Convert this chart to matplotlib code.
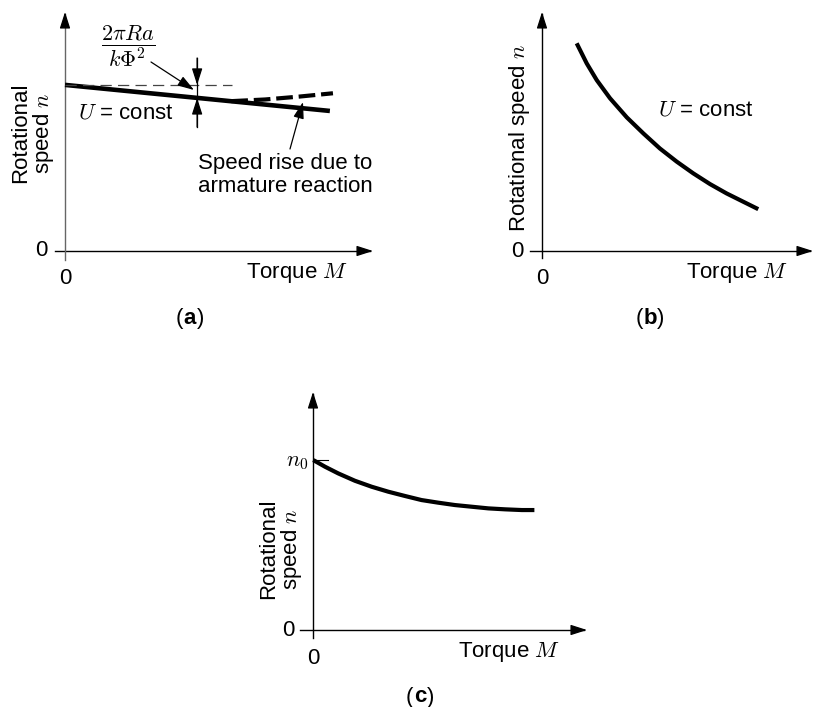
import matplotlib
matplotlib.use("Agg")
import matplotlib.pyplot as plt

plt.rcParams['font.family'] = ['Liberation Sans', 'DejaVu Sans']
plt.rcParams['mathtext.fontset'] = 'cm'
FS = 16

# ---------------- data ----------------
# Panel (a): shunt motor, speed vs torque
a_M_line = [0, 86]
a_n_line = [69.5, 58.6]
a_M_rise = [54.0, 65.0, 76.0, 87.0]
a_n_rise = [62.7, 63.4, 64.6, 66.0]
a_n0 = 69.5
a_M_ref = 54.2          # end of thin dashed no-load line
a_M_drop = 42.9          # position of the drop marker
a_n_drop = 64.0

# Panel (b): series motor
b_M = [12.8, 16.5, 20.2, 25.1, 31.3, 37.4, 43.5, 49.7, 55.8, 62.0, 68.1, 74.3, 79.8]
b_n = [86.9, 78.5, 71.5, 63.9, 55.9, 49.2, 42.9, 37.4, 32.5, 28.0, 24.1, 20.6, 17.5]

# Panel (c): compound motor
c_M = [0.1, 4.4, 9.2, 15.3, 21.4, 27.5, 33.6, 39.6, 45.7, 51.8, 57.9, 64.0, 70.1, 76.2, 80.8]
c_n = [71.4, 68.6, 65.8, 62.7, 60.2, 58.1, 56.3, 54.6, 53.5, 52.5, 51.8, 51.1, 50.7, 50.4, 50.4]
c_n0 = 71.4

W, H = 814, 707
fig = plt.figure(figsize=(W / 100, H / 100), dpi=100)

ARW = dict(arrowstyle='-|>,head_length=1.0,head_width=0.32', mutation_scale=10,
           color='k', lw=0.9, shrinkA=0, shrinkB=0)


def make_axes(ox, oy, xend, ytop):
    ax = fig.add_axes([ox / W, 1 - oy / H, (xend - ox) / W, (oy - ytop) / H])
    ax.set_xlim(0, 100)
    ax.set_ylim(0, 100)
    ax.axis('off')
    sx = 100.0 / (xend - ox)
    sy = 100.0 / (oy - ytop)

    def p2d(px, py):
        return ((px - ox) * sx, (oy - py) * sy)
    return ax, p2d


def arrow(ax, tip, tail):
    ax.annotate('', xy=tip, xytext=tail, arrowprops=ARW, annotation_clip=False)


def axis_arrows(ax, p2d, xstart_px, ybottom_px, ycolor='k'):
    ax.plot([p2d(xstart_px, 0)[0], 99], [0, 0], color='k', lw=1.0, clip_on=False)
    arrow(ax, (100, 0), (95, 0))
    ax.plot([0, 0], [p2d(0, ybottom_px)[1], 99], color=ycolor, lw=1.0, clip_on=False)
    arrow(ax, (0, 100), (0, 95))


def curve(ax, x, y, lw=3.0, **kw):
    ax.plot(x, y, color='k', lw=lw, solid_joinstyle='round', solid_capstyle='butt',
            clip_on=False, **kw)


# ---------------- panel (a) ----------------
ax, p2d = make_axes(65, 251, 373, 12)
axis_arrows(ax, p2d, 55, 260, ycolor='#666666')
curve(ax, a_M_line, a_n_line, lw=3.3)
ax.plot(a_M_rise, a_n_rise, color='k', lw=3.0, linestyle=(0, (4, 1.4)), clip_on=False)
ax.plot([0, a_M_ref], [a_n0, a_n0], color='#444444', lw=0.9,
        linestyle=(0, (9, 5)), clip_on=False)
ytop_d = p2d(0, 58)[1]
ybot_d = p2d(0, 127)[1]
ax.plot([a_M_drop, a_M_drop], [ybot_d, ytop_d], color='k', lw=0.9, clip_on=False)
arrow(ax, (a_M_drop, a_n0), (a_M_drop, ytop_d))
arrow(ax, (a_M_drop, a_n_drop), (a_M_drop, ybot_d))
ax.text(*p2d(128, 46), r'$\dfrac{2\pi Ra}{k\Phi^{\mathsf{2}}}$', fontsize=FS,
        ha='center', va='center')
arrow(ax, p2d(194, 90), p2d(151, 62))
ax.text(*p2d(78, 113), r'$U$ = const', fontsize=FS, ha='left', va='center')
ax.text(*p2d(198, 175), 'Speed rise due to\narmature reaction', fontsize=FS,
        ha='left', va='center', linespacing=1.1)
arrow(ax, p2d(303, 102), p2d(290, 149))
ax.text(*p2d(33, 133), 'Rotational\nspeed $n$', fontsize=FS, rotation=90,
        ha='center', va='center', linespacing=1.0)
ax.text(*p2d(41, 251), '0', fontsize=FS, ha='center', va='center')
ax.text(*p2d(65, 279), '0', fontsize=FS, ha='center', va='center')
ax.text(*p2d(348, 273), r'Torque $M$', fontsize=FS, ha='right', va='center')

# ---------------- panel (b) ----------------
bx, q2d = make_axes(542, 251, 813, 12)
axis_arrows(bx, q2d, 530, 258)
curve(bx, b_M, b_n)
bx.text(*q2d(658, 110), r'$U$ = const', fontsize=FS, ha='left', va='center')
bx.text(*q2d(519, 138), 'Rotational speed $n$', fontsize=FS, rotation=90,
        ha='center', va='center')
bx.text(*q2d(517, 252), '0', fontsize=FS, ha='center', va='center')
bx.text(*q2d(542, 279), '0', fontsize=FS, ha='center', va='center')
bx.text(*q2d(788, 273), r'Torque $M$', fontsize=FS, ha='right', va='center')

# ---------------- panel (c) ----------------
cx, r2d = make_axes(313, 630, 587, 392)
axis_arrows(cx, r2d, 300, 638)
curve(cx, c_M, c_n)
cx.plot([0, r2d(328, 0)[0]], [c_n0, c_n0], color='k', lw=0.8, clip_on=False)
cx.text(*r2d(308, 462), r'$n_{\mathsf{0}}$', fontsize=FS, ha='right', va='center')
cx.text(*r2d(281, 549), 'Rotational\nspeed $n$', fontsize=FS, rotation=90,
        ha='center', va='center', linespacing=1.0)
cx.text(*r2d(288, 630), '0', fontsize=FS, ha='center', va='center')
cx.text(*r2d(313, 658), '0', fontsize=FS, ha='center', va='center')
cx.text(*r2d(560, 652), r'Torque $M$', fontsize=FS, ha='right', va='center')

# panel captions: "(" normal, letter bold, ")" normal
for axx, conv, px, py, letter in [(ax, p2d, 190, 319, 'a'), (bx, q2d, 650, 319, 'b'),
                                  (cx, r2d, 420, 697, 'c')]:
    x, y = conv(px, py)
    axx.text(x, y, letter, fontsize=FS, fontweight='bold', ha='center', va='center')
    axx.annotate('(', xy=(x, y), xytext=(-5, 0), textcoords='offset points',
                 fontsize=FS, ha='right', va='center', annotation_clip=False)
    axx.annotate(')', xy=(x, y), xytext=(5, 0), textcoords='offset points',
                 fontsize=FS, ha='left', va='center', annotation_clip=False)

fig.savefig('out.png', dpi=100)
